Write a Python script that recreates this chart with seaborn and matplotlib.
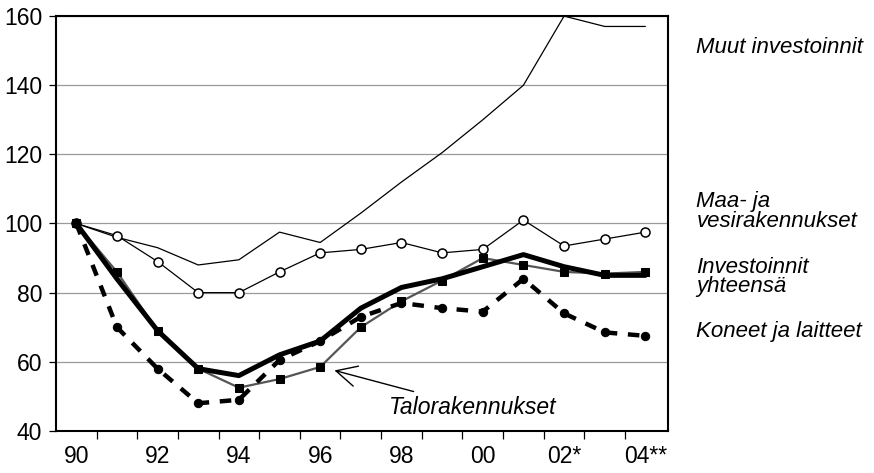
import numpy as np
import pandas as pd
import matplotlib
matplotlib.use("Agg")
import matplotlib.pyplot as plt
import seaborn as sns

# ------------------------------
# Data (index, 1990 = 100)
# ------------------------------
years = list(range(1990, 2005))
year_labels = ["90", "92", "94", "96", "98", "00", "02*", "04**"]

muut = [100, 96, 93, 88, 89.5, 97.5, 94.5, 103, 112, 120.5, 130, 140, 160, 157, 157]
maa_vesi = [100, 96.5, 89, 80, 80, 86, 91.5, 92.5, 94.5, 91.5, 92.5, 101, 93.5, 95.5, 97.5]
yhteensa = [100, 84, 69, 58, 56, 62, 66, 75.5, 81.5, 84, 87.5, 91, 87.5, 85, 85]
talo = [100, 86, 69, 58, 52.5, 55, 58.5, 70, 77.5, 83.5, 90, 88, 86, 85.5, 86]
koneet = [100, 70, 58, 48, 49, 60.5, 66, 73, 77, 75.5, 74.5, 84, 74, 68.5, 67.5]

df = pd.DataFrame({"year": years, "muut": muut, "maa": maa_vesi,
                   "yht": yhteensa, "talo": talo, "koneet": koneet})

# ------------------------------
# Style
# ------------------------------
sns.set_style("white")
plt.rcParams["font.family"] = ["Liberation Sans", "DejaVu Sans"]
plt.rcParams["text.color"] = "black"
plt.rcParams["xtick.color"] = "black"
plt.rcParams["ytick.color"] = "black"

fig = plt.figure(figsize=(8.74, 4.73), dpi=100)
ax = fig.add_axes([0.064, 0.089, 0.700, 0.877])

# grid lines behind everything
ax.set_axisbelow(True)
ax.yaxis.grid(True, color="#9a9a9a", linewidth=0.9)

# ------------------------------
# Lines
# ------------------------------
sns.lineplot(data=df, x="year", y="muut", ax=ax, color="black", linewidth=0.9)
sns.lineplot(data=df, x="year", y="maa", ax=ax, color="black", linewidth=0.9,
             marker="o", markersize=6.5, markerfacecolor="white",
             markeredgecolor="black", markeredgewidth=1.1)
sns.lineplot(data=df, x="year", y="talo", ax=ax, color="#555555", linewidth=1.6,
             marker="s", markersize=6, markerfacecolor="black",
             markeredgecolor="black")
sns.lineplot(data=df, x="year", y="koneet", ax=ax, color="black", linewidth=3.2,
             linestyle=(0, (2.6, 2.4)), marker="o", markersize=6,
             markerfacecolor="black", markeredgecolor="black")
sns.lineplot(data=df, x="year", y="yht", ax=ax, color="black", linewidth=3.6)

# ------------------------------
# Axes
# ------------------------------
ax.set_xlim(1989.5, 2004.55)
ax.set_ylim(40, 160)
ax.set_yticks(range(40, 161, 20))
ax.set_xticks(years[::2])
ax.set_xticklabels(year_labels)
ax.set_xticks(np.arange(1990.5, 2004.5, 1), minor=True)
ax.set_xlabel("")
ax.set_ylabel("")

ax.tick_params(axis="x", which="major", length=0, pad=10, labelsize=16.5)
ax.tick_params(axis="x", which="minor", direction="out", length=6, width=0.9)
ax.tick_params(axis="y", direction="out", length=5, width=0.9, pad=5, labelsize=16.5)
ax.tick_params(bottom=True, left=True, which="both")

for side in ["left", "right", "top", "bottom"]:
    ax.spines[side].set_visible(True)
    ax.spines[side].set_color("black")
    ax.spines[side].set_linewidth(1.5)

# ------------------------------
# Series labels on the right
# ------------------------------
tr = ax.get_yaxis_transform()
label_kw = dict(transform=tr, ha="left", va="center", fontsize=16,
                style="italic", clip_on=False, linespacing=0.9)
ax.text(1.047, 151, "Muut investoinnit", **label_kw)
ax.text(1.047, 103.5, "Maa- ja\nvesirakennukset", **label_kw)
ax.text(1.047, 84.5, "Investoinnit\nyhteensä", **label_kw)
ax.text(1.047, 68.7, "Koneet ja laitteet", **label_kw)

# arrow label for Talorakennukset
ax.annotate("Talorakennukset", xy=(1996.35, 57.5), xytext=(1997.7, 46.8),
            fontsize=16.5, style="italic", ha="left", va="center",
            arrowprops=dict(arrowstyle="->,head_length=0.9,head_width=0.45",
                            color="black", lw=1.0, shrinkA=3, shrinkB=0))

fig.savefig("out.png", dpi=100)
